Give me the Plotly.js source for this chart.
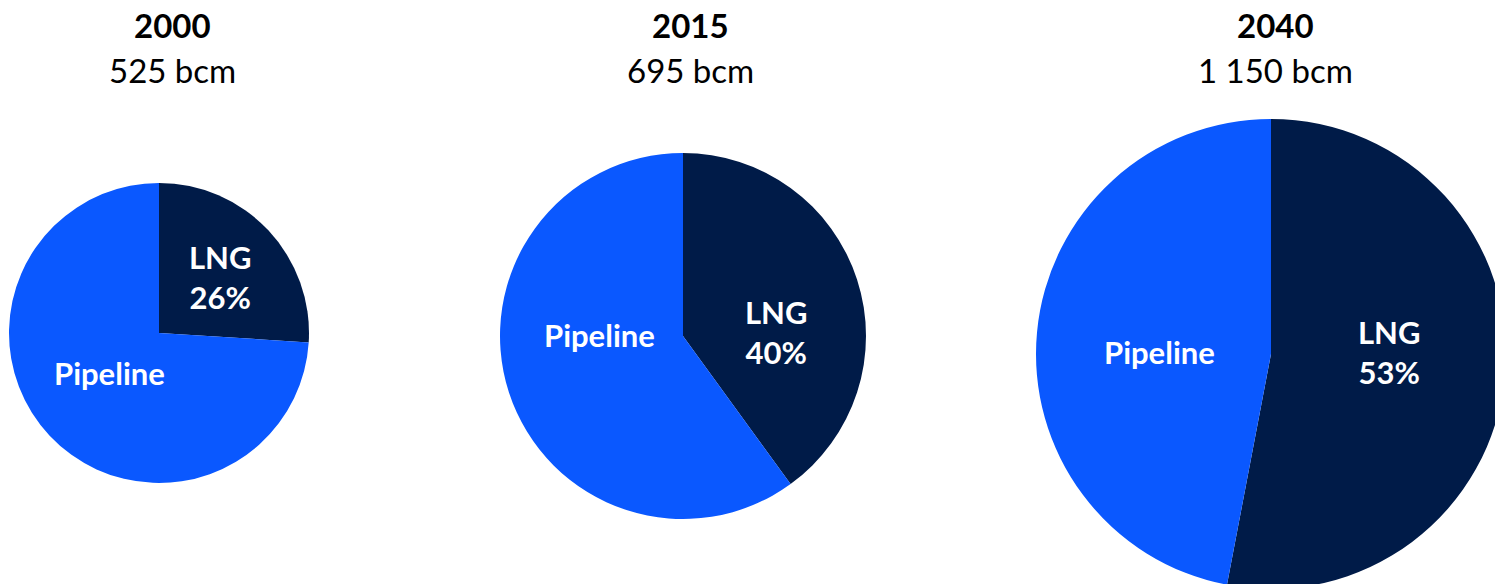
<!DOCTYPE html>
<html>
<head>
<meta charset="utf-8">
<script src="https://cdn.plot.ly/plotly-3.0.1.min.js"></script>
<style>
  html, body { margin: 0; padding: 0; overflow: hidden; background: #ffffff; }
  #chart { width: 1520px; height: 600px; }
</style>
</head>
<body>
<div id="chart"></div>
<script>
// ---- data ----
const years = ['2000', '2015', '2040'];
const totals = ['525 bcm', '695 bcm', '1 150 bcm'];
const categories = ['LNG', 'Pipeline'];
const lngShare = [26, 40, 53];
const pipelineShare = [74, 60, 47];

// ---- layout geometry (pixels in a 1520x600 canvas) ----
const W = 1520, H = 600;
const centers = [[159, 333], [683, 336], [1271, 354]];
const radii = [150, 183, 235];
const titleX = [172, 690, 1275];
const lngLabelPos = [[220, 277], [776, 332], [1389, 352]];
const pipeLabelPos = [[109, 373], [599, 335], [1159, 352]];
const colors = ['#001b48', '#0a58ff'];
const FONT = 'Lato, "Open Sans", sans-serif';

const traces = years.map((y, i) => {
  const [cx, cy] = centers[i];
  const r = radii[i];
  return {
    type: 'pie',
    labels: categories,
    values: [lngShare[i], pipelineShare[i]],
    textinfo: 'none',
    hoverinfo: 'none',
    sort: false,
    direction: 'clockwise',
    rotation: 0,
    marker: { colors: colors, line: { width: 0 } },
    showlegend: false,
    domain: {
      x: [(cx - r) / W, (cx + r) / W],
      y: [(H - cy - r) / H, (H - cy + r) / H]
    }
  };
});

const ann = (text, px, py, size, color) => ({
  text: text, x: px / W, y: (H - py) / H,
  xref: 'paper', yref: 'paper', xanchor: 'center', yanchor: 'middle',
  showarrow: false, font: { family: FONT, size: size, color: color }
});

const annotations = [];
years.forEach((y, i) => {
  annotations.push(ann('<b>' + y + '</b>', titleX[i], 25, 33, '#000000'));
  annotations.push(ann(totals[i], titleX[i], 70, 33, '#000000'));
  annotations.push(ann('<b>' + categories[0] + '<br>' + lngShare[i] + '%</b>',
    lngLabelPos[i][0], lngLabelPos[i][1], 31, '#ffffff'));
  annotations.push(ann('<b>' + categories[1] + '</b>',
    pipeLabelPos[i][0], pipeLabelPos[i][1], 31, '#ffffff'));
});

const layout = {
  width: W, height: H,
  margin: { l: 0, r: 0, t: 0, b: 0, pad: 0 },
  paper_bgcolor: '#ffffff',
  plot_bgcolor: '#ffffff',
  showlegend: false,
  annotations: annotations
};

Plotly.newPlot('chart', traces, layout, { displayModeBar: false, staticPlot: true });
</script>
</body>
</html>
